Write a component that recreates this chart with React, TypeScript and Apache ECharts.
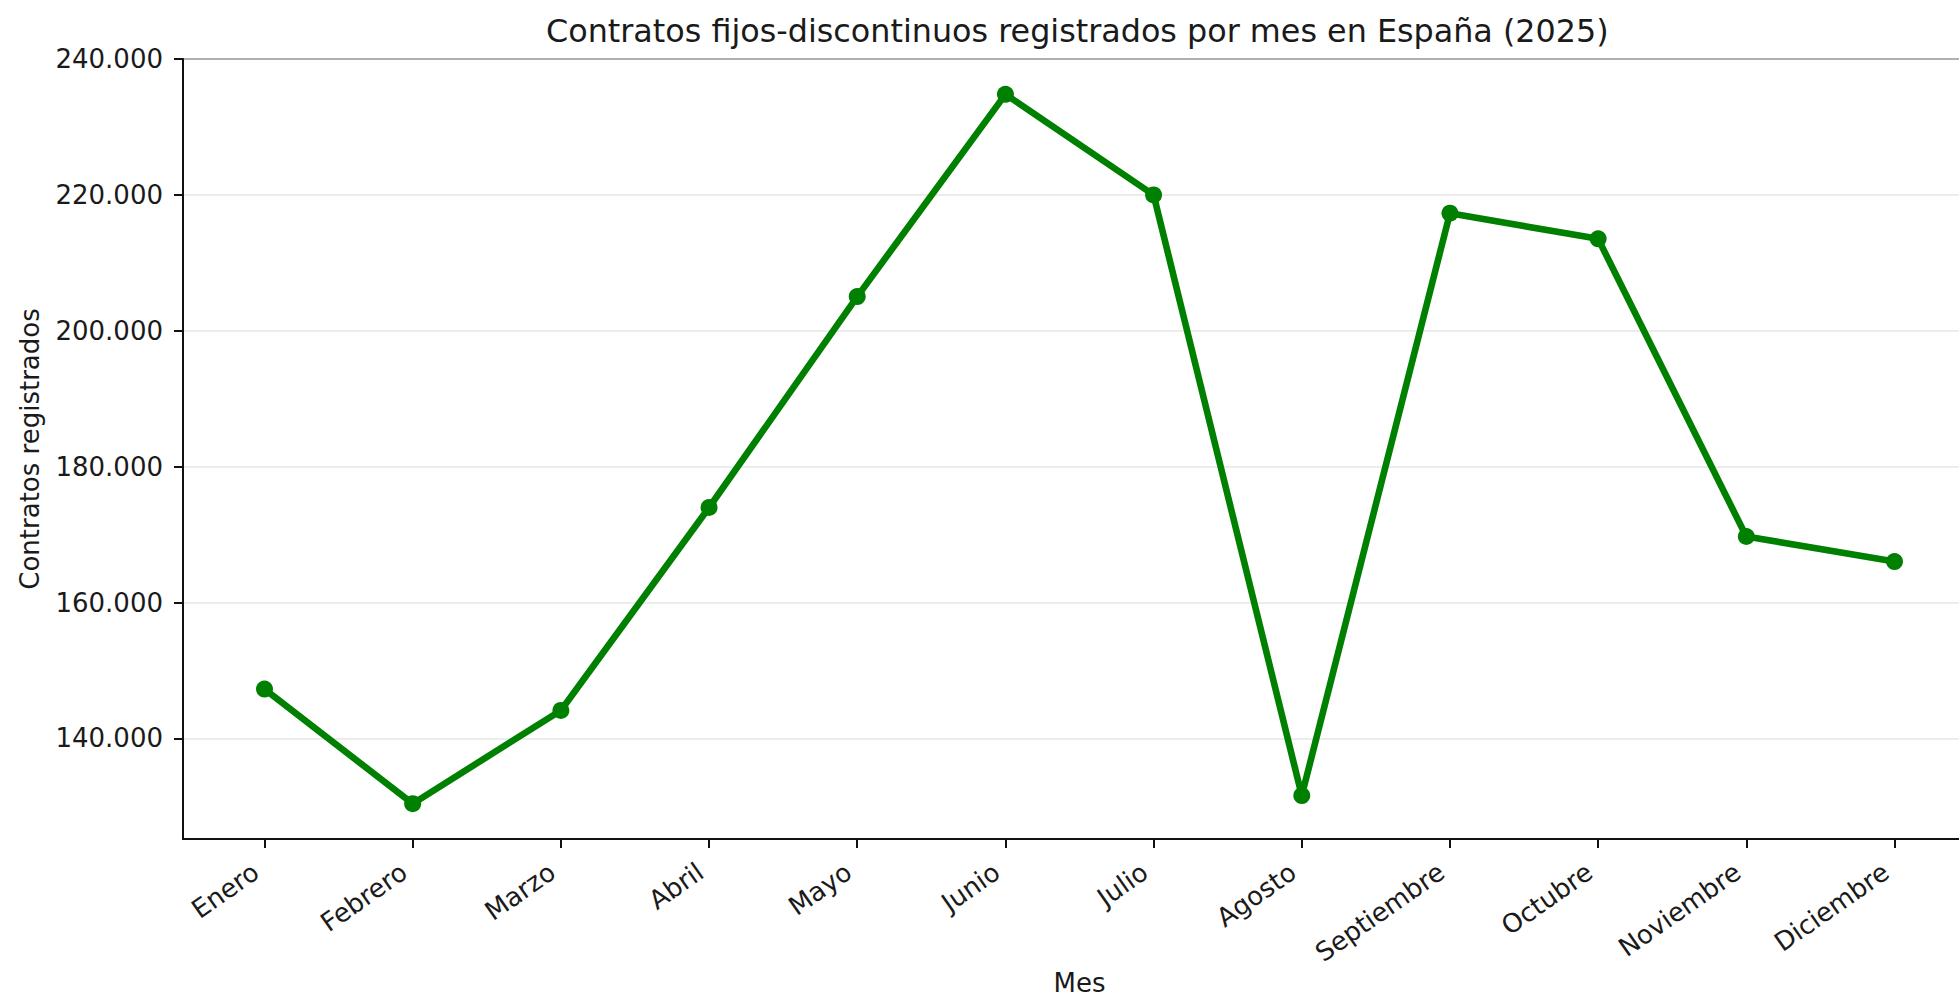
import React, { useEffect, useRef } from "react";
import * as echarts from "echarts";

const TITLE = "Contratos fijos-discontinuos registrados por mes en España (2025)";
const X_NAME = "Mes";
const Y_NAME = "Contratos registrados";

const months = [
  "Enero", "Febrero", "Marzo", "Abril", "Mayo", "Junio",
  "Julio", "Agosto", "Septiembre", "Octubre", "Noviembre", "Diciembre",
];
const contratos = [
  147270, 130400, 144120, 173990, 205030, 234800,
  220000, 131600, 217300, 213530, 169720, 166040,
];
const yTicks = [140000, 160000, 180000, 200000, 220000, 240000];
const xTicks = months.map((_, i) => i);

const FONT = "DejaVu Sans";

function fmt(v: number): string {
  return String(Math.round(v)).replace(/\B(?=(\d{3})+(?!\d))/g, ".");
}

export default function App() {
  const ref = useRef<HTMLDivElement>(null);

  useEffect(() => {
    document.body.style.margin = "0";
    document.body.style.overflow = "hidden";
    if (!ref.current) return;
    const chart = echarts.init(ref.current, null, { renderer: "svg" });
    const option: any = {
      animation: false,
      backgroundColor: "#ffffff",
      textStyle: { fontFamily: FONT },
      title: {
        text: TITLE,
        left: 541,
        top: 9,
        textStyle: { fontFamily: FONT, fontSize: 31.8, fontWeight: "normal", color: "#1a1a1a" },
      },
      grid: {
        left: 183,
        right: -17,
        top: 59,
        bottom: 164,
        containLabel: false,
        outerBoundsMode: "none",
        show: true,
        borderColor: "#111111",
        borderWidth: 2,
        backgroundColor: "transparent",
      },
      xAxis: {
        type: "value",
        min: -0.55,
        max: 11.55,
        name: X_NAME,
        nameLocation: "middle",
        nameGap: 131,
        nameMoveOverlap: false,
        nameTextStyle: { fontFamily: FONT, fontSize: 26, lineHeight: 26, color: "#1a1a1a" },
        axisLine: { show: true, onZero: false, lineStyle: { color: "#111111", width: 2 } },
        axisTick: {
          show: true,
          length: 9,
          lineStyle: { color: "#111111", width: 2 },
          customValues: xTicks,
        },
        axisLabel: {
          customValues: xTicks,
          rotate: 35,
          margin: 24,
          padding: [0, 10.5, 0, 0],
          fontFamily: FONT,
          fontSize: 26,
          color: "#1a1a1a",
          formatter: (v: number) => months[Math.round(v)] ?? "",
        },
        splitLine: { show: false },
      },
      yAxis: {
        type: "value",
        min: 125200,
        max: 240000,
        name: Y_NAME,
        nameLocation: "middle",
        nameRotate: 90,
        nameGap: 140,
        nameMoveOverlap: false,
        nameTextStyle: { fontFamily: FONT, fontSize: 26, color: "#1a1a1a" },
        axisLine: { show: true, onZero: false, lineStyle: { color: "#111111", width: 2 } },
        axisTick: {
          show: true,
          length: 9,
          lineStyle: { color: "#111111", width: 2 },
          customValues: yTicks,
        },
        axisLabel: {
          customValues: yTicks,
          margin: 20,
          fontFamily: FONT,
          fontSize: 26,
          color: "#1a1a1a",
          formatter: (v: number) => fmt(v),
        },
        splitLine: { show: true, lineStyle: { color: "#e6e6e6", width: 1.5 } },
      },
      series: [
        {
          type: "line",
          data: contratos.map((v, i) => [i, v]),
          symbol: "circle",
          symbolSize: 17,
          showSymbol: true,
          lineStyle: { color: "#008000", width: 6.6 },
          itemStyle: { color: "#008000" },
          z: 5,
        },
      ],
    };
    chart.setOption(option);
    return () => chart.dispose();
  }, []);

  return (
    <div
      ref={ref}
      style={{ position: "fixed", left: 0, top: 0, width: 1959, height: 1003 }}
    />
  );
}
